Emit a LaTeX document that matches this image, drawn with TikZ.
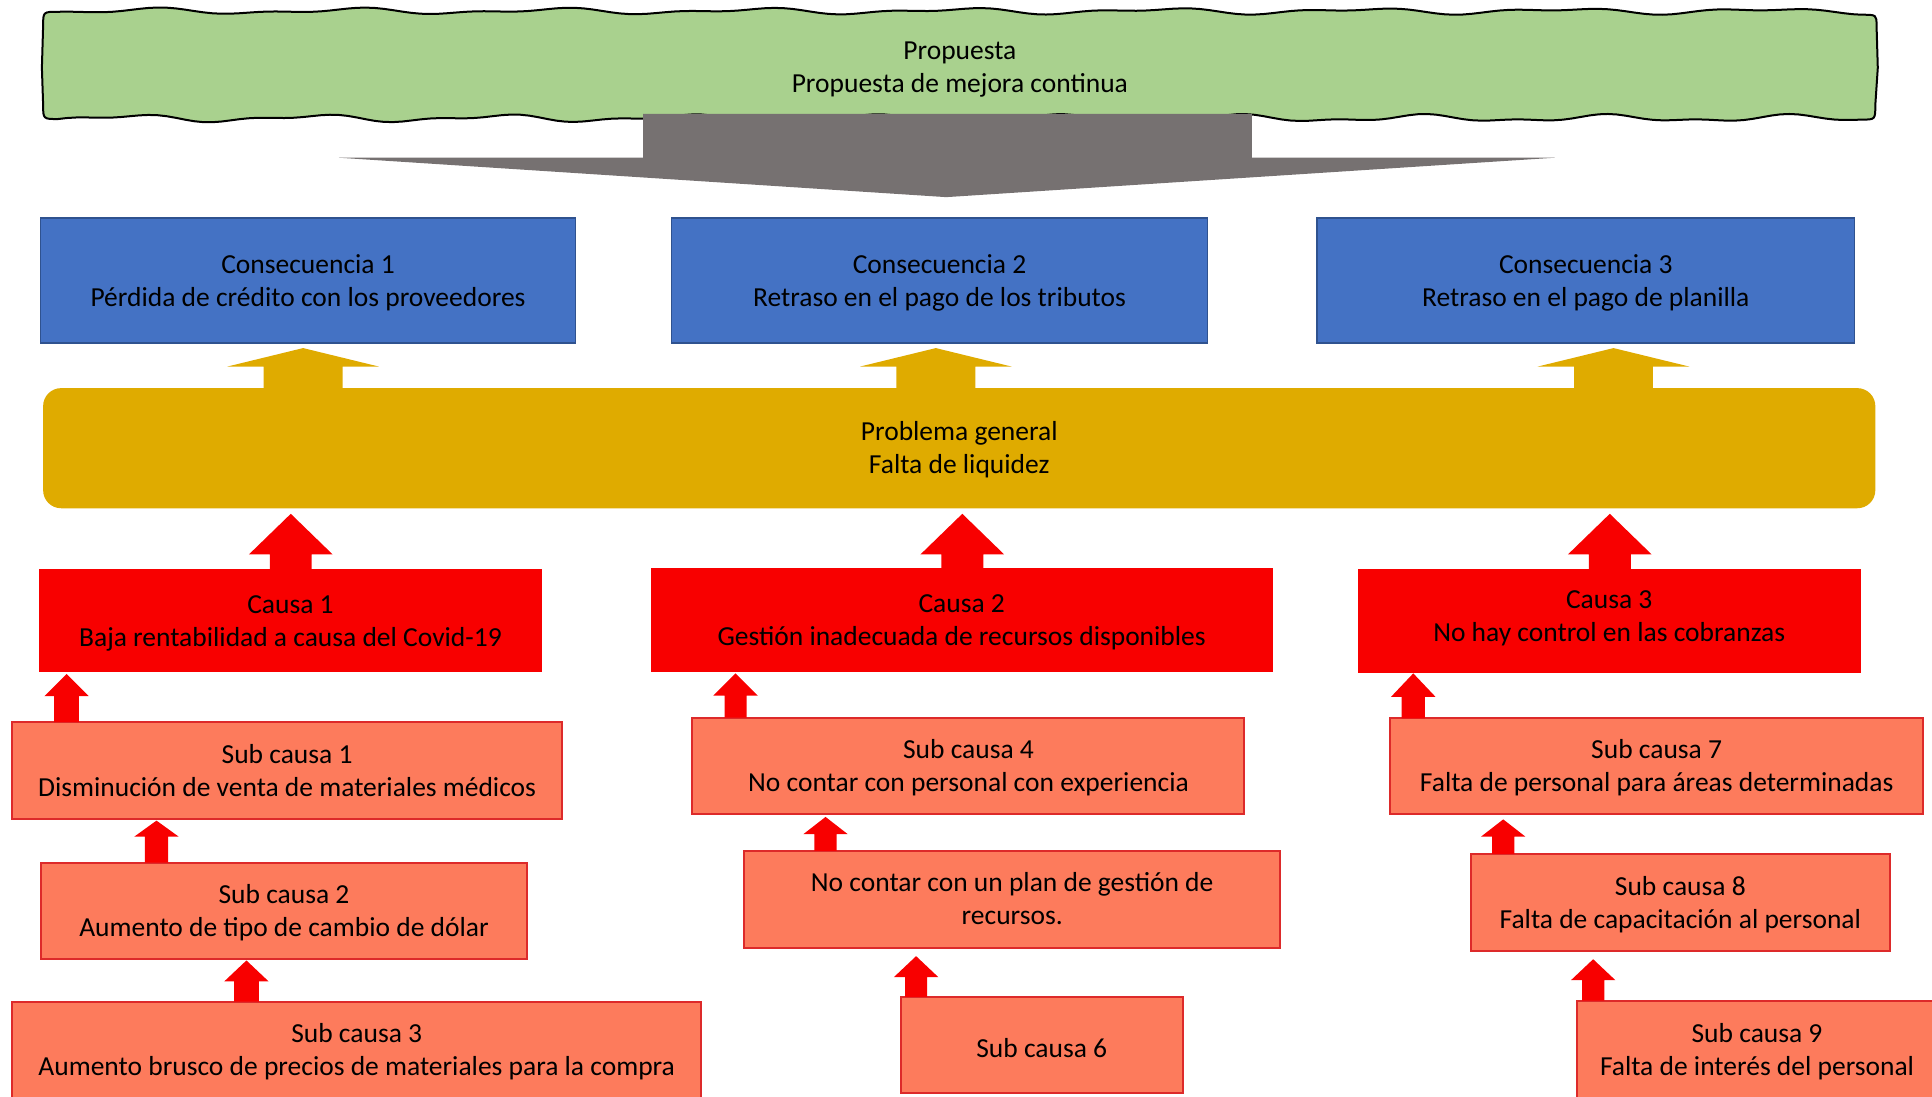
\documentclass[tikz,border=0pt]{standalone}
\usepackage{fontspec}
\setmainfont{Carlito}
\usetikzlibrary{calc}
\definecolor{gfill}{HTML}{A9D18E}
\definecolor{garrow}{HTML}{767171}
\definecolor{bfill}{HTML}{4472C4}
\definecolor{bdraw}{HTML}{2F528F}
\definecolor{goldc}{HTML}{DFAB00}
\definecolor{rfill}{HTML}{F80000}
\definecolor{sfill}{HTML}{FD7B5C}
\definecolor{sdraw}{HTML}{DD2A2A}
\def\S{1.2321pt}
\def\tBd{8pt}
% box node given by its corners (in reference units)
\newcommand\bx[7]{\node[#6, anchor=north west, minimum width={(#4-#2)*1.2321pt}, minimum height={(#5-#3)*1.2321pt}] (#1) at (#2,#3) {\rule{0pt}{26pt}#7\rule[-\tBd]{0pt}{\tBd}};}
% block arrow pointing up from lower node to upper node
% #1 colour, #2 lower node, #3 upper node, #4 x, #5 shaft half width, #6 head half width, #7 head length, #8 gap
\newcommand\blockup[8]{\fill[#1] let \p1=(#4,0), \p2=(#2.north), \p3=(#3.south) in
  ({\x1-#5*\S},\y2) -- ({\x1-#5*\S},{\y3-(#8+#7)*\S}) -- ({\x1-#6*\S},{\y3-(#8+#7)*\S}) --
  (\x1,{\y3-#8*\S}) -- ({\x1+#6*\S},{\y3-(#8+#7)*\S}) -- ({\x1+#5*\S},{\y3-(#8+#7)*\S}) --
  ({\x1+#5*\S},\y2) -- cycle;}
\tikzset{
  strutd/.store in=\tBd,
  txt/.style={font=\fontsize{27.5}{33}\selectfont, align=center, inner sep=0pt, outer sep=0pt, text=black, strutd=8pt},
  propst/.style={txt, strutd=4pt},
  consbox/.style={txt, fill=bfill, draw=bdraw, line width=1.5pt},
  goldbox/.style={txt, fill=goldc, rounded corners=18pt},
  causa/.style={txt, fill=rfill},
  causahigh/.style={causa, strutd=19pt},
  sub/.style={txt, fill=sfill, draw=sdraw, line width=2pt},
  subone/.style={sub, strutd=1pt},
}
\begin{document}
\begin{tikzpicture}[x=1.2321pt, y=-1.2321pt,
  declare function={gt(\t)=9+1.8*sin(2.2*\t)+1.2*sin(4.3*\t+60); gb(\t)=96+2.2*sin(2.4*\t+20)+1.3*sin(4.9*\t);}]
\useasboundingbox (0,0) rectangle (1568,890);
% wavy green proposal shape
\filldraw[fill=gfill, draw=black, line width=2pt]
 (47,{gt(47)}) -- plot[domain=47:1511, samples=200] (\x,{gt(\x)}) .. controls (1523,{gt(1511)}) .. (1523,21)
 -- (1524,55) -- (1522,85) .. controls (1522,{gb(1511)}) .. (1511,{gb(1511)})
 -- plot[domain=1511:47, samples=200] (\x,{gb(\x)}) .. controls (35,{gb(47)}) .. (35,85)
 -- (34,55) -- (35,21) .. controls (35,{gt(47)}) .. (47,{gt(47)}) -- cycle;
% grey down arrow
\fill[garrow] (522,92.5) -- (1016,92.5) -- (1016,128) -- (1262,128) -- (768,160) -- (275,128) -- (522,128) -- cycle;
\bx{prop}{35}{9}{1523}{97}{propst}{Propuesta\\Propuesta de mejora continua}
% consequences
\bx{c1}{33}{177}{467}{278.5}{consbox}{Consecuencia 1\\Pérdida de crédito con los proveedores}
\bx{c2}{545}{177}{980}{278.5}{consbox}{Consecuencia 2\\Retraso en el pago de los tributos}
\bx{c3}{1069}{177}{1505}{278.5}{consbox}{Consecuencia 3\\Retraso en el pago de planilla}
% general problem
\bx{pg}{35}{315}{1522}{412.5}{goldbox}{Problema general\\Falta de liquidez}
% causes
\bx{ca1}{32}{462}{439.5}{545.5}{causa}{Causa 1\\Baja rentabilidad a causa del Covid-19}
\bx{ca2}{528}{461}{1033}{545}{causa}{Causa 2\\Gestión inadecuada de recursos disponibles}
\bx{ca3}{1102}{462}{1510}{546}{causahigh}{Causa 3\\No hay control en las cobranzas}
% sub causes
\bx{s1}{10}{586}{456}{665}{sub}{Sub causa 1\\Disminución de venta de materiales médicos}
\bx{s2}{33}{700}{428}{778.5}{sub}{Sub causa 2\\Aumento de tipo de cambio de dólar}
\bx{s3}{10}{813}{569}{892}{sub}{Sub causa 3\\Aumento brusco de precios de materiales para la compra}
\bx{s4}{562}{582.5}{1010}{661}{sub}{Sub causa 4\\No contar con personal con experiencia}
\bx{s5}{604}{690.5}{1039}{769}{sub}{No contar con un plan de gestión de\\recursos.}
\bx{s6}{731}{809}{960}{887}{subone}{Sub causa 6}
\bx{s7}{1128}{583}{1561}{661}{sub}{Sub causa 7\\Falta de personal para áreas determinadas}
\bx{s8}{1193.5}{693}{1534}{772}{sub}{Sub causa 8\\Falta de capacitación al personal}
\bx{s9}{1280}{812}{1572}{892}{sub}{Sub causa 9\\Falta de interés del personal}
% gold arrows
\blockup{goldc}{pg}{c1}{246}{32}{61.5}{15}{4}
\blockup{goldc}{pg}{c2}{759.5}{32}{61.5}{15}{4}
\blockup{goldc}{pg}{c3}{1309.5}{32}{61.5}{15}{4}
% big red arrows
\blockup{rfill}{ca1}{pg}{236}{17}{34}{33}{4.5}
\blockup{rfill}{ca2}{pg}{781}{17}{34}{33}{4.5}
\blockup{rfill}{ca3}{pg}{1306.5}{17}{34}{33}{4.5}
% small red arrows
\blockup{rfill}{s1}{ca1}{54}{10}{18}{18}{1.5}
\blockup{rfill}{s2}{s1}{127}{9.5}{18}{13}{1}
\blockup{rfill}{s3}{s2}{200}{10}{18}{17}{1}
\blockup{rfill}{s4}{ca2}{597}{9}{18}{18}{1.5}
\blockup{rfill}{s5}{s4}{670}{9}{18}{14}{2}
\blockup{rfill}{s6}{s5}{743.5}{9}{18}{17}{7}
\blockup{rfill}{s7}{ca3}{1147}{9.5}{18}{19}{0.5}
\blockup{rfill}{s8}{s7}{1220}{9}{18}{14}{4}
\blockup{rfill}{s9}{s8}{1293}{9}{18}{17}{6.5}
\end{tikzpicture}
\end{document}
